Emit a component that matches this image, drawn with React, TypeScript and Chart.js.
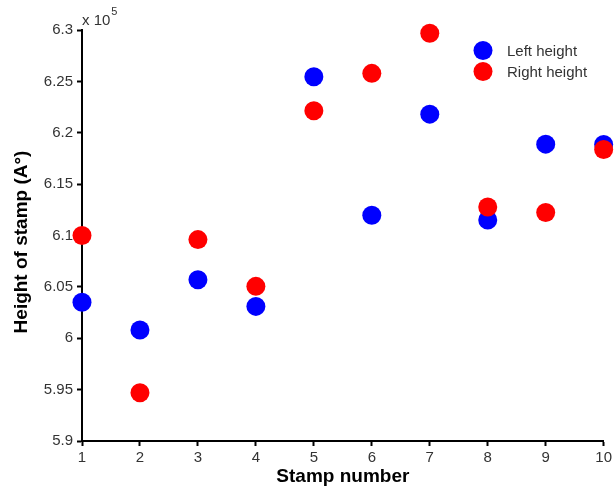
import React, { useEffect, useRef } from "react";
import { Chart, registerables } from "chart.js";

Chart.register(...registerables);

const stampNumbers = [1, 2, 3, 4, 5, 6, 7, 8, 9, 10];
const leftHeight = [6.035, 6.008, 6.057, 6.031, 6.2545, 6.1197, 6.2181, 6.115, 6.1889, 6.1886];
const rightHeight = [6.1, 5.947, 6.096, 6.0505, 6.2214, 6.2578, 6.2968, 6.1278, 6.1223, 6.1837];
const seriesNames = ["Left height", "Right height"];
const seriesColors = ["#0000ff", "#ff0000"];
const xTitle = "Stamp number";
const yTitle = "Height of stamp (A°)";
const yMin = 5.9;
const yMax = 6.3;
const yStep = 0.05;
const exponentText = "x 10";
const exponentPower = "5";

const FONT = "'Liberation Sans', Arial, sans-serif";

const overlayPlugin = {
  id: "overlay",
  afterDraw(chart: any) {
    const ctx = chart.ctx as CanvasRenderingContext2D;
    const area = chart.chartArea;
    ctx.save();
    // exponent label
    ctx.fillStyle = "#333";
    ctx.textBaseline = "alphabetic";
    ctx.textAlign = "left";
    ctx.font = `15px ${FONT}`;
    ctx.fillText(exponentText, area.left, area.top - 5);
    const w = ctx.measureText(exponentText).width;
    ctx.font = `11px ${FONT}`;
    ctx.fillText(exponentPower, area.left + w + 1, area.top - 15);

    // legend
    const lx = 483;
    const ly = [50.5, 71.5];
    chart.data.datasets.forEach((ds: any, i: number) => {
      ctx.beginPath();
      ctx.fillStyle = ds.backgroundColor;
      ctx.arc(lx, ly[i], 9.5, 0, Math.PI * 2);
      ctx.fill();
    });
    ctx.fillStyle = "#333";
    ctx.font = `15px ${FONT}`;
    ctx.textBaseline = "middle";
    chart.data.datasets.forEach((ds: any, i: number) => {
      ctx.fillText(ds.label, 507, ly[i] + 1);
    });

    // axis titles
    ctx.fillStyle = "#000";
    ctx.font = `bold 19px ${FONT}`;
    ctx.textAlign = "center";
    ctx.textBaseline = "middle";
    ctx.fillText(xTitle, (area.left + area.right) / 2, 477);
    ctx.translate(22, 242);
    ctx.rotate(-Math.PI / 2);
    ctx.fillText(yTitle, 0, 0);
    ctx.restore();
  },
};

export default function App() {
  const ref = useRef<HTMLCanvasElement>(null);
  useEffect(() => {
    document.body.style.margin = "0";
    const canvas = ref.current!;
    const chart = new Chart(canvas, {
      type: "scatter",
      data: {
        datasets: [
          {
            label: seriesNames[0],
            data: stampNumbers.map((x, i) => ({ x, y: leftHeight[i] })),
            backgroundColor: seriesColors[0],
            borderWidth: 0,
            pointRadius: 9.5,
            order: 1,
            clip: false as any,
          },
          {
            label: seriesNames[1],
            data: stampNumbers.map((x, i) => ({ x, y: rightHeight[i] })),
            backgroundColor: seriesColors[1],
            borderWidth: 0,
            pointRadius: 9.5,
            order: 0,
            clip: false as any,
          },
        ],
      },
      options: {
        animation: false,
        responsive: false,
        devicePixelRatio: 1,
        layout: { padding: { left: 0, top: 30, right: 11, bottom: 0 } },
        plugins: { legend: { display: false }, tooltip: { enabled: false } },
        scales: {
          x: {
            type: "linear",
            min: 1,
            max: 10,
            afterFit: (s: any) => {
              s.height = 56;
            },
            ticks: {
              stepSize: 1,
              color: "#333",
              font: { family: FONT, size: 15 },
              padding: 3,
              maxRotation: 0,
            },
            grid: {
              drawOnChartArea: false,
              drawTicks: true,
              tickLength: 5,
              tickColor: "#000",
              tickWidth: 2,
            },
            border: { display: true, color: "#000", width: 2 },
          },
          y: {
            min: yMin,
            max: yMax,
            afterFit: (s: any) => {
              s.width = 82;
            },
            ticks: {
              stepSize: yStep,
              color: "#333",
              font: { family: FONT, size: 15 },
              padding: 4,
              callback: (v: any) => String(Number(Number(v).toFixed(2))),
            },
            grid: {
              drawOnChartArea: false,
              drawTicks: true,
              tickLength: 5,
              tickColor: "#000",
              tickWidth: 2,
            },
            border: { display: true, color: "#000", width: 2 },
          },
        },
      },
      plugins: [overlayPlugin],
    });
    return () => chart.destroy();
  }, []);
  return (
    <div style={{ position: "fixed", left: 0, top: 0, width: 615, height: 497, background: "#fff" }}>
      <canvas ref={ref} width={615} height={497} />
    </div>
  );
}
